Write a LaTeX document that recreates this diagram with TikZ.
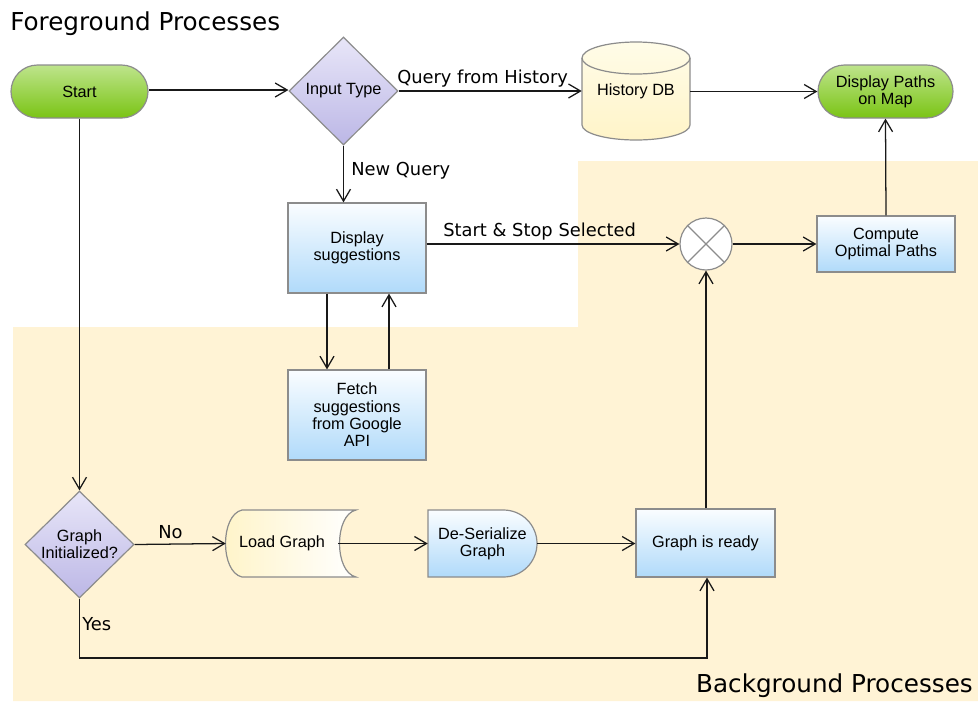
\documentclass[tikz,border=0pt]{standalone}
\usepackage{fontspec}
\setmainfont{Liberation Sans}
\newfontfamily\labelfont{DejaVu Sans}
\usetikzlibrary{arrows.meta,shapes.geometric,shapes.misc}
\definecolor{bgbeige}{RGB}{255,243,213}
\definecolor{bordergray}{RGB}{140,140,140}
\definecolor{greentop}{RGB}{190,228,140}
\definecolor{greenbot}{RGB}{122,196,20}
\definecolor{purpletop}{RGB}{232,230,248}
\definecolor{purplebot}{RGB}{188,183,230}
\definecolor{bluetop}{RGB}{250,253,255}
\definecolor{bluebot}{RGB}{176,218,250}
\definecolor{yellowtop}{RGB}{255,252,232}
\definecolor{yellowbot}{RGB}{255,244,200}
\definecolor{linecol}{RGB}{25,25,25}
\tikzset{
  nodefont/.style={font=\fontsize{12.2}{13}\selectfont, align=center, text=black},
  terminal/.style={nodefont, rounded rectangle, draw=bordergray, line width=0.9pt, top color=greentop, bottom color=greenbot, inner sep=0pt},
  decision/.style={nodefont, diamond, draw=bordergray, line width=0.9pt, top color=purpletop, bottom color=purplebot, inner sep=0pt},
  process/.style={nodefont, rectangle, draw=bordergray, line width=0.9pt, top color=bluetop, bottom color=bluebot, inner sep=0pt, minimum width=103.5pt},
  plainbox/.style={nodefont, rectangle, inner sep=0pt},
  outline/.style={draw=bordergray, line width=0.9pt},
  conn/.style={draw=linecol, line width=0.95pt, -{Straight Barb[length=9pt,width=10.5pt,line width=0.95pt]}},
  edgelabel/.style={font=\labelfont\fontsize{13.4}{15}\selectfont, inner sep=0pt, text=black},
  title/.style={font=\labelfont\fontsize{18.5}{21}\selectfont, inner sep=0pt, text=black}
}
\begin{document}
\begin{tikzpicture}[x=0.75pt,y=0.75pt]
\useasboundingbox (0,0) rectangle (978,-701);
% background region
\fill[bgbeige] (13,-327) -- (578,-327) -- (578,-161) -- (978,-161) -- (978,-701) -- (13,-701) -- cycle;

% titles
\node[title, anchor=base west] (fgtitle) at (10,-30) {Foreground Processes};
\node[title, anchor=base east] (bgtitle) at (973,-692) {Background Processes};

% nodes
\node[terminal, minimum width=102.75pt, minimum height=39.75pt] (start) at (79.5,-91.5) {Start};
\node[decision, minimum width=81.75pt, minimum height=81pt] (input) at (343.5,-91) {Input Type};

% History DB cylinder
\shade[top color=yellowtop, bottom color=yellowbot, outline]
  (582,-58) -- (582,-125) arc[start angle=180, end angle=360, x radius=54, y radius=15]
  -- (690,-58) arc[start angle=0, end angle=180, x radius=54, y radius=16] -- cycle;
\draw[outline] (582,-58) arc[start angle=180, end angle=360, x radius=54, y radius=16];
\node[plainbox, minimum width=81pt, minimum height=72.75pt] (hist) at (636,-91.5) {History DB};

\node[terminal, minimum width=101.25pt, minimum height=39.75pt] (paths) at (885.5,-91.5) {Display Paths\\on Map};

\node[process, minimum height=67.5pt] (disp) at (357,-248) {Display\\suggestions};
\node[process, minimum height=67.5pt] (fetch) at (357,-415) {Fetch\\suggestions\\from Google\\API};

\node[circle, draw=bordergray, line width=0.9pt, fill=white, minimum size=39pt, inner sep=0pt] (join) at (706,-244) {};
\draw[bordergray, line width=0.9pt] (join.north west) -- (join.south east) (join.north east) -- (join.south west);

\node[process, minimum height=42pt] (compute) at (886,-244) {Compute\\Optimal Paths};

\node[decision, minimum width=81.75pt, minimum height=80.25pt] (ginit) at (79.5,-544.5) {Graph\\Initialized?};

% Load Graph (stored data)
\shade[left color=yellowbot, right color=white, outline]
  (242,-510) -- (356,-510) .. controls (334,-515) and (334,-572) .. (356,-577)
  -- (242,-577) .. controls (220,-572) and (220,-515) .. (242,-510) -- cycle;
\node[plainbox, minimum width=84pt, minimum height=50.25pt] (load) at (282,-543.5) {Load Graph};

% De-Serialize Graph (delay)
\shade[top color=bluetop, bottom color=bluebot, outline]
  (428,-510) -- (503.5,-510) arc[start angle=90, end angle=-90, radius=33.5] -- (428,-577) -- cycle;
\node[plainbox, minimum width=81.75pt, minimum height=50.25pt] (deser) at (482.5,-543.5) {De-Serialize\\Graph};

\node[process, minimum width=104.25pt, minimum height=51pt] (ready) at (705.5,-543) {Graph is ready};

% connectors
\draw[conn] (start.east |- 0,-90) -- (input.west |- 0,-90);
\draw[conn] (input.east) -- (hist.west |- input.east);
\node[edgelabel, anchor=base west] (qfh) at (397,-83) {Query from History};
\draw[conn] (hist.east |- paths.west) -- (paths.west);
\draw[conn] (input.south) -- (input.south |- disp.north);
\node[edgelabel, anchor=base west] (newq) at (351,-175) {New Query};
\draw[conn] (disp.south -| 327,0) -- (fetch.north -| 327,0);
\draw[conn] (fetch.north -| 389,0) -- (disp.south -| 389,0);
\draw[conn] (disp.east |- join.west) -- (join.west);
\node[edgelabel, anchor=base west] (ssl) at (443,-236) {Start \& Stop Selected};
\draw[conn] (join.east) -- (compute.west);
\draw[conn] (compute.north) -- (paths.south);
\draw[conn] (ready.north -| join.south) -- (join.south);
\draw[conn] (start.south) -- (ginit.north);
\draw[conn] (ginit.east) -- (load.west);
\node[edgelabel, anchor=base west] (nolab) at (158,-538) {No};
\draw[conn] (load.east) -- (deser.west);
\draw[conn] (deser.east) -- (ready.west |- deser.east);
\coordinate (ycorner1) at (79.5,-658);
\coordinate (ycorner2) at (707,-658);
\draw[conn] (ginit.south) -- (ycorner1) -- (ycorner2) -- (ready.south -| ycorner2);
\node[edgelabel, anchor=base west] (yeslab) at (82,-630) {Yes};
\end{tikzpicture}
\end{document}
